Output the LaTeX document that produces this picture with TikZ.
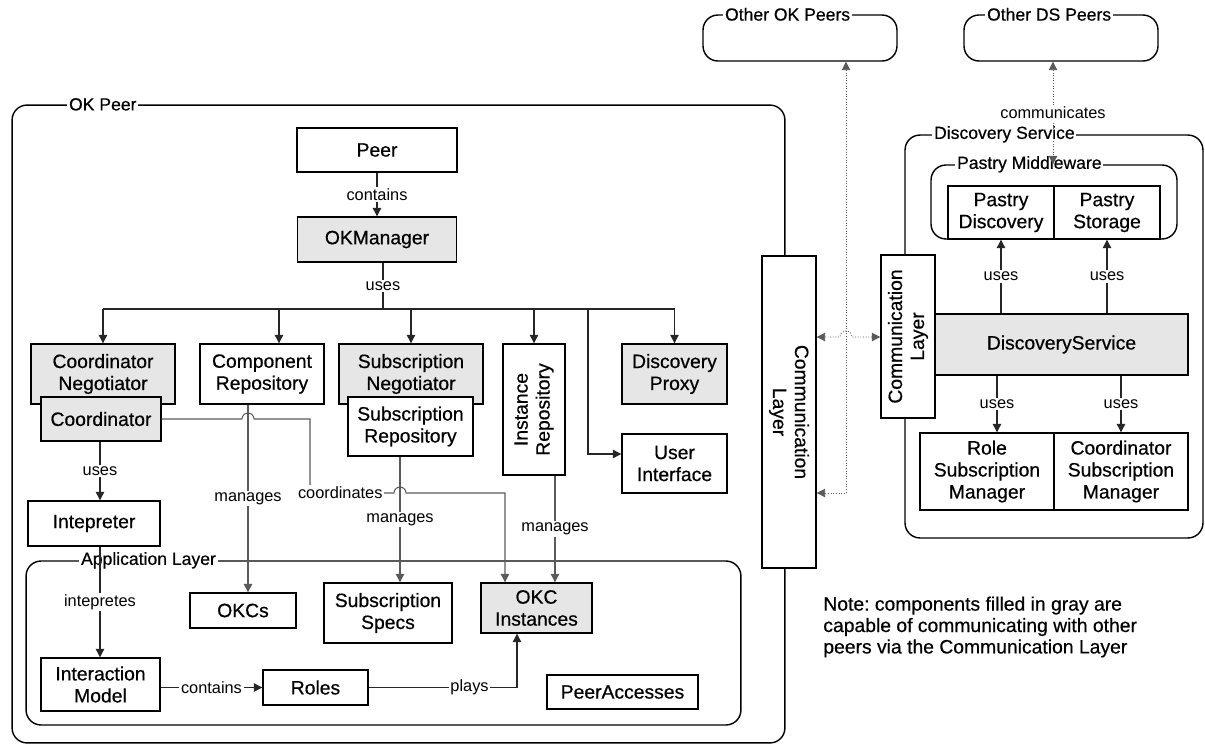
\documentclass[tikz,border=0pt]{standalone}
\usepackage{fontspec}
\setmainfont{Liberation Sans}
\newfontfamily\boxfont[FakeBold=0.5]{Liberation Sans}
\frenchspacing
\usetikzlibrary{arrows.meta}
\definecolor{compgray}{HTML}{E6E6E6}
\definecolor{linkgray}{HTML}{5A5A5A}
\tikzstyle{box}=[draw, line width=0.8pt, fill=white, align=center, inner sep=1pt, font=\boxfont\fontsize{11}{12.5}\selectfont]
\tikzstyle{graybox}=[box, fill=compgray]
\tikzstyle{group}=[draw, line width=0.8pt, rounded corners=0.3cm]
\tikzstyle{group title}=[fill=white, anchor=west, inner xsep=1pt, inner ysep=0pt, font=\boxfont\fontsize{10}{12}\selectfont]
\tikzstyle{lbl}=[fill=white, inner sep=1pt, font=\fontsize{9.3}{11}\selectfont]
\tikzstyle{link}=[line width=0.6pt, draw=black!85]
\tikzstyle{uses}=[link, ->]
\tikzstyle{manages}=[uses, draw=linkgray]
\tikzstyle{remote}=[line width=0.5pt, draw=linkgray, densely dotted, <->]

\begin{document}
\begin{tikzpicture}[x=0.02cm, y=-0.02cm, >={Triangle[length=4.8pt,width=4.8pt]}]
  \useasboundingbox (0,0) rectangle (1205,744);

  % groups
  \node[group, minimum width=15.46cm, minimum height=12.76cm] (okpeer) at (398.5,424) {};
  \node[group, minimum width=14.3cm, minimum height=3.28cm] (applayer) at (383.5,643) {};
  \node[group, minimum width=3.88cm, minimum height=0.92cm] (okpeers) at (800,38) {};
  \node[group, minimum width=3.88cm, minimum height=0.92cm] (dspeers) at (1061,38) {};
  \node[group, minimum width=5.96cm, minimum height=8.06cm] (dsgroup) at (1054,336.5) {};
  \node[group, minimum width=4.92cm, minimum height=1.48cm] (pastry) at (1054,202) {};
  \node[group title] (okpeertitle) at (okpeer.north west -| 67,0) {OK Peer};
  \node[group title] (applayertitle) at (applayer.north west -| 79,0) {Application Layer};
  \node[group title] (okpeerstitle) at (okpeers.north west -| 723,0) {Other OK Peers};
  \node[group title] (dspeerstitle) at (dspeers.north west -| 985,0) {Other DS Peers};
  \node[group title] (dsgrouptitle) at (dsgroup.north west -| 932,0) {Discovery Service};
  \node[group title] (pastrytitle) at (pastry.north west -| 955,0) {Pastry Middleware};

  % OK peer
  \node[box, minimum width=3.2cm, minimum height=0.88cm] (peer) at (377,150) {Peer};
  \node[graybox, minimum width=3.18cm, minimum height=0.9cm] (okm) at (377,239.5) {OKManager};
  \node[graybox, minimum width=2.88cm, minimum height=1.2cm] (cn) at (103,374) {Coordinator\\Negotiator};
  \node[graybox, minimum width=2.4cm, minimum height=0.88cm] (cd) at (101,419) {Coordinator};
  \node[box, minimum width=2.48cm, minimum height=1.2cm] (cr) at (262,374) {Component\\Repository};
  \node[graybox, minimum width=2.88cm, minimum height=1.2cm] (sn) at (411,374) {Subscription\\Negotiator};
  \node[box, minimum width=2.5cm, minimum height=1.18cm] (sr) at (410.5,426.5) {Subscription\\Repository};
  \node[box, rotate=90, minimum width=2.62cm, minimum height=1.24cm] (ir) at (534,409.5) {Instance\\Repository};
  \node[graybox, minimum width=2.1cm, minimum height=1.2cm] (dp) at (674.5,374) {Discovery\\Proxy};
  \node[box, minimum width=2.1cm, minimum height=1.18cm] (ui) at (674.5,463.5) {User\\Interface};
  \node[box, minimum width=2.64cm, minimum height=0.9cm] (int) at (94,523.5) {Intepreter};
  \node[box, minimum width=2.12cm, minimum height=0.7cm] (okcs) at (243,610.5) {OKCs};
  \node[box, minimum width=2.56cm, minimum height=1.2cm] (ss) at (388,613) {Subscription\\Specs};
  \node[graybox, minimum width=2.22cm, minimum height=1cm] (oki) at (536.5,608) {OKC\\Instances};
  \node[box, minimum width=2.38cm, minimum height=1.06cm] (im) at (100.5,684.5) {Interaction\\Model};
  \node[box, minimum width=2.1cm, minimum height=0.7cm] (roles) at (315.5,687.5) {Roles};
  \node[box, minimum width=3.02cm, minimum height=0.68cm] (pa) at (622.5,692) {PeerAccesses};
  \node[box, rotate=-90, minimum width=6.24cm, minimum height=1.08cm] (clok) at (789,412) {Communication\\Layer};

  % discovery service
  \node[graybox, minimum width=5.06cm, minimum height=1.22cm] (ds) at (1061.5,344.5) {DiscoveryService};
  \node[box, rotate=90, minimum width=3.26cm, minimum height=1.08cm] (clds) at (908,336.5) {Communication\\Layer};
  \node[box, minimum width=2.12cm, minimum height=1.06cm] (pd) at (1001,212.5) {Pastry\\Discovery};
  \node[box, minimum width=2.12cm, minimum height=1.06cm] (ps) at (1107,212.5) {Pastry\\Storage};
  \node[box, minimum width=2.68cm, minimum height=1.54cm] (rsm) at (987,471.5) {Role\\Subscription\\Manager};
  \node[box, minimum width=2.68cm, minimum height=1.54cm] (csm) at (1121,471.5) {Coordinator\\Subscription\\Manager};

  \node[anchor=west, align=left, inner sep=0pt, font=\boxfont\fontsize{11}{12.2}\selectfont] (note) at (823,627)
    {Note: components filled in gray are\\capable of communicating with other\\peers via the Communication Layer};

  % connectors
  \draw[uses] (peer) -- node[lbl]{contains} (okm);
  \coordinate (bus) at (383,309);
  \draw[link] (okm.south -| bus) -- node[lbl]{uses} (bus);
  \draw[link] (bus -| cn.north) -- (bus -| dp.north);
  \foreach \n/\a in {cn/north, sn/north, ir/east, dp/north}
    \draw[uses] (bus -| \n.\a) -- (\n.\a);
  \draw[uses] (bus -| 279,0) -- (cr.north -| 279,0);
  \draw[uses] (bus -| 588,0) |- (ui.west |- 0,454);
  \draw[uses] (cd.south -| 100,0) -- node[lbl]{uses} (int.north -| 100,0);
  \draw[uses] (int.south -| 100,0) -- node[lbl]{intepretes} (im.north -| 100,0);
  \draw[uses] (im.east |- roles) -- node[lbl]{contains} (roles.west);
  \draw[uses] (roles.east) -| node[lbl, pos=0.34]{plays} (oki.south -| 517,0);
  \draw[manages] (cr.south -| 248,0) -- node[lbl]{manages} (okcs.north -| 248,0);
  \draw[manages] (sr.south -| 400,0) -- node[lbl]{manages} (ss.north -| 400,0);
  \draw[manages] (ir.west -| 555,0) -- node[lbl]{manages} (oki.north -| 555,0);
  \draw[manages] (cd.east) -- (242,419) arc[start angle=180, end angle=0, radius=0.12cm] -- (310,419)
    -- (310,493) -- node[lbl, pos=0.36]{coordinates} (394,493)
    arc[start angle=180, end angle=0, radius=0.12cm] -- (505,493) -- (oki.north -| 505,0);

  \draw[uses] (ds.north -| pd.south) -- node[lbl]{uses} (pd.south);
  \draw[uses] (ds.north -| ps.south) -- node[lbl]{uses} (ps.south);
  \draw[uses] (ds.south -| 997,0) -- node[lbl]{uses} (rsm.north -| 997,0);
  \draw[uses] (ds.south -| csm.north) -- node[lbl]{uses} (csm.north);

  \draw[remote] (okpeers.south -| 846,0) |- (clok.north |- 0,493);
  \draw[remote] (clok.north |- 0,337) -- (840,337) arc[start angle=180, end angle=0, radius=0.12cm] -- (clds.north |- 0,337);
  \draw[remote] (dspeers.south -| 1053,0) -- node[lbl]{communicates} (pastry.north -| 1053,0);
\end{tikzpicture}
\end{document}
